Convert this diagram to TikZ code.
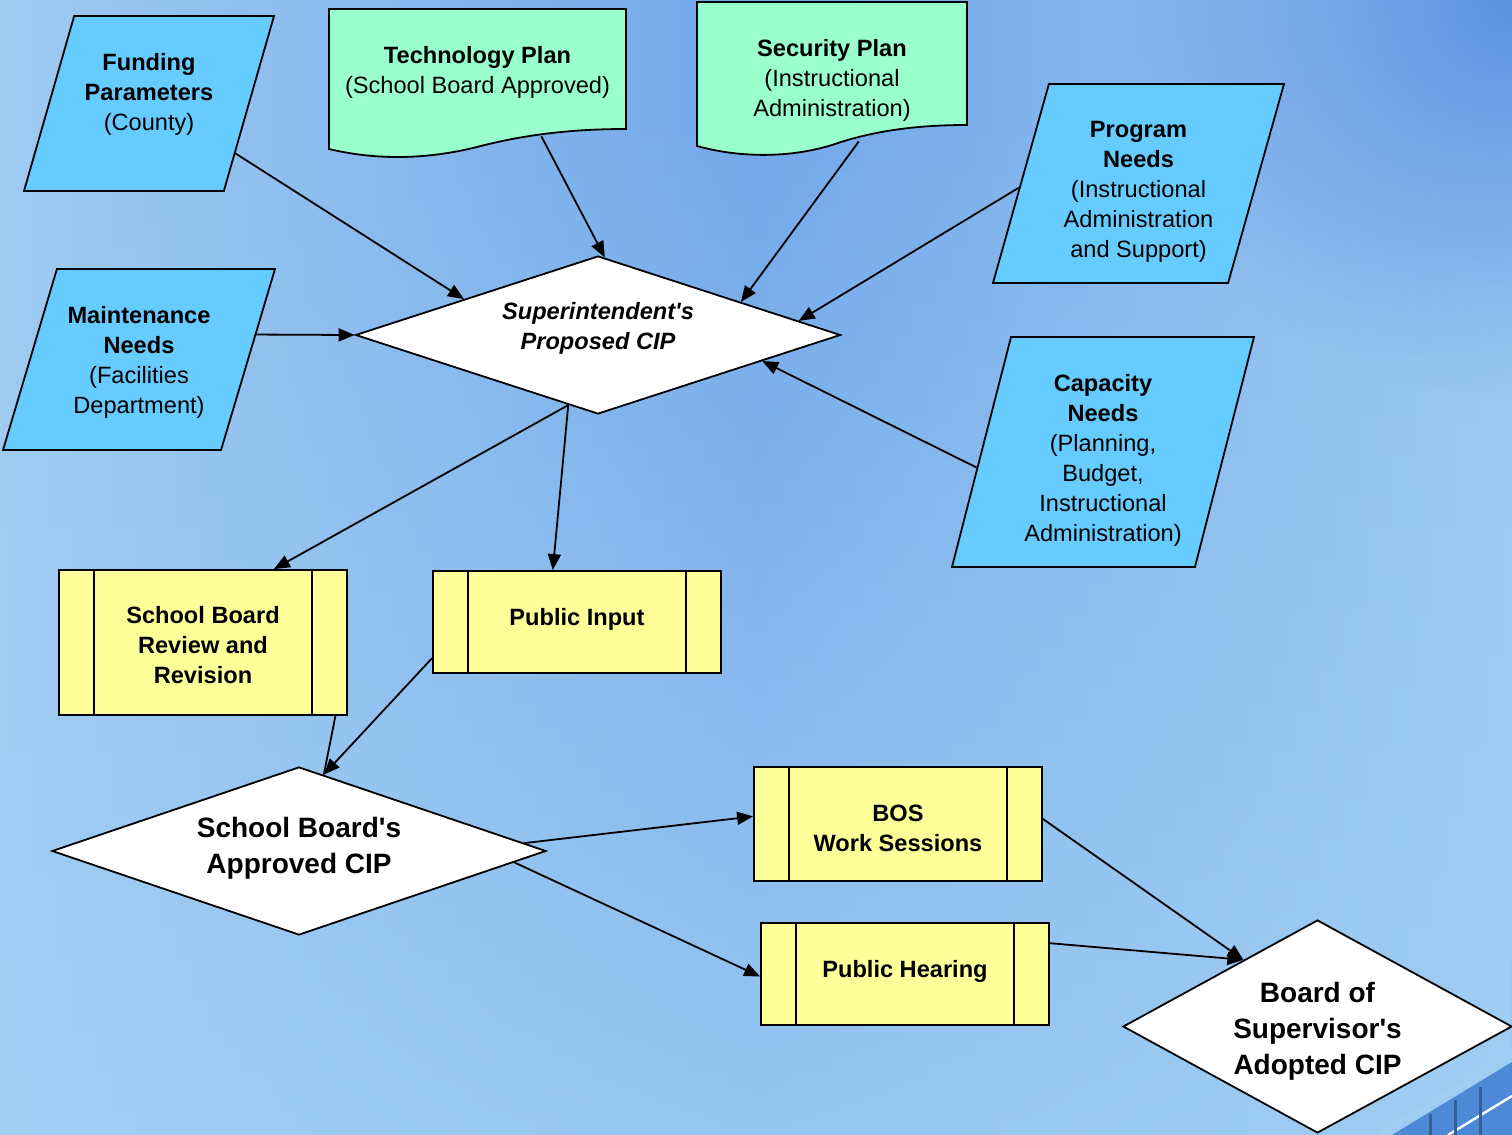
\documentclass[tikz,border=0pt]{standalone}
\usepackage{fontspec}
\setmainfont{Liberation Sans}[Ligatures=TeXOff]
\usetikzlibrary{shapes,arrows.meta,fadings}

\definecolor{skyleft}{HTML}{9FCBF1}
\definecolor{skymid}{HTML}{72A7EA}
\definecolor{skyright}{HTML}{9AC8F1}
\definecolor{skylow}{HTML}{A0CEF3}
\definecolor{skydeep}{HTML}{5C93E2}
\definecolor{stripe}{HTML}{4E89D8}
\definecolor{datablue}{HTML}{66CCFF}
\definecolor{docgreen}{HTML}{99FFCC}
\definecolor{procyellow}{HTML}{FFFF99}

\tikzfading[name=cornerfade,inner color=transparent!0,outer color=transparent!100]

\begin{document}
\begin{tikzpicture}[x=0.5pt,y=-0.5pt,
    every node/.style={align=center,font=\fontsize{11.8}{15}\selectfont},
    data/.style={trapezium,trapezium left angle=74,trapezium right angle=106,
      trapezium stretches body=true,draw,fill=datablue,line width=0.9pt,inner sep=0pt},
    docbox/.style={rectangle,inner sep=0pt},
    docfill/.style={draw,fill=docgreen,line width=0.9pt},
    process/.style={rectangle,draw,fill=procyellow,line width=0.9pt,inner sep=0pt,
      minimum width=144pt,font=\fontsize{11.8}{15}\selectfont\bfseries,
      path picture={\draw[line width=0.9pt]
        ([xshift=17.5pt]path picture bounding box.north west) -- ([xshift=17.5pt]path picture bounding box.south west)
        ([xshift=-17.5pt]path picture bounding box.north east) -- ([xshift=-17.5pt]path picture bounding box.south east);}},
    decision/.style={diamond,draw,fill=white,line width=0.9pt,inner sep=0pt},
    bigtext/.style={font=\fontsize{14}{18}\selectfont\bfseries},
    flow/.style={line width=0.9pt,-{Triangle[length=8pt,width=6.5pt]}}]

    \useasboundingbox (0,0) rectangle (1512,1135);
    \clip (0,0) rectangle (1512,1135);

    \shade[left color=skyleft,right color=skyright,middle color=skymid] (0,0) rectangle (1512,1135);
    \fill[skylow,path fading=north,fill opacity=0.8] (0,100) rectangle (1512,1135);
    \fill[skydeep,path fading=cornerfade,fit fading=true] (1112,-400) rectangle (1912,400);
    \fill[stripe] (1392,1135) -- (1512,1062) -- (1512,1135) -- cycle;
    \draw[skylow,line width=3pt] (1380,1135) -- (1512,1055);
    \draw[white,line width=1.2pt] (1448,1135) -- (1512,1096);
    \foreach \sx in {1430,1455,1480}
      \draw[stripe!70!black,line width=1.5pt] (\sx,1135) -- (\sx,{1135-(\sx-1392)*0.55});

    \draw[docfill] (329,9) -- (626,9) -- (626,129) .. controls (580,129) and (530,133) .. (477,147)
      .. controls (425,160) and (375,160) .. (329,149) -- cycle;
    \draw[docfill] (697,2) -- (967,2) -- (967,125) .. controls (920,125) and (875,130) .. (832,145)
      .. controls (790,158) and (740,158) .. (697,146) -- cycle;

    \node[docbox,minimum width=148.5pt,text height=42pt,text depth=21.5pt] (tech) at (477.5,72.5)
      {\textbf{Technology Plan}\\(School Board Approved)};
    \node[docbox,minimum width=135pt,text height=57pt,text depth=12.5pt] (sec) at (832,71.5)
      {\textbf{Security Plan}\\(Instructional\\Administration)};

    \node[data,minimum width=125pt,text height=57pt,text depth=30.5pt] (fund) at (149,103.5)
      {\textbf{Funding}\\\textbf{Parameters}\\(County)};
    \node[data,minimum width=136pt,text height=72pt,text depth=18.5pt,trapezium left angle=73.4,
      trapezium right angle=106.6] (maint) at (139,359.5)
      {\textbf{Maintenance}\\\textbf{Needs}\\(Facilities\\Department)};
    \node[data,minimum width=145.5pt,text height=86.5pt,text depth=13pt,trapezium left angle=74.3,
      trapezium right angle=105.7] (prog) at (1138.5,183.5)
      {\textbf{Program}\\\textbf{Needs}\\(Instructional\\Administration\\and Support)};
    \node[data,minimum width=151pt,text height=102pt,text depth=13pt,trapezium left angle=75.6,
      trapezium right angle=104.4] (cap) at (1103,452)
      {\textbf{Capacity}\\\textbf{Needs}\\(Planning,\\Budget,\\Instructional\\Administration)};

    \node[decision,shape aspect=3.07,minimum width=242.5pt,minimum height=79pt,
      text height=24pt,text depth=9.5pt] (sup) at (598,335)
      {\bfseries\itshape Superintendent's\\\bfseries\itshape Proposed CIP};

    \node[process,text height=56.5pt,text depth=16pt] (review) at (203,642.5) {School Board\\Review and\\Revision};
    \node[process,text height=27pt,text depth=24pt] (pubin) at (577,622) {Public Input};
    \node[process,text height=42pt,text depth=15pt] (bos) at (898,824) {BOS\\Work Sessions};
    \node[process,text height=27pt,text depth=24pt] (hear) at (905,974) {Public Hearing};

    \node[decision,bigtext,shape aspect=2.94,minimum width=247pt,minimum height=84pt,
      text height=28.5pt,text depth=6.5pt] (appr) at (299,851)
      {School Board's\\Approved CIP};
    \node[decision,bigtext,shape aspect=1.83,minimum width=194.5pt,minimum height=106.5pt,
      text height=50.5pt,text depth=3pt] (board) at (1317.5,1026.5)
      {Board of\\Supervisor's\\Adopted CIP};

    \draw[flow] (fund.-30) -- (sup.165);
    \draw[flow] (tech.-45) -- (sup.85.5);
    \draw[flow] (sec.-69.5) -- (sup.13);
    \draw[flow] (prog.182) -- (sup.4);
    \draw[flow] (cap.187) -- (sup.-9);
    \draw[flow] (maint.12.5) -- (sup.west);
    \draw[flow] (sup.-113) -- (review.46);
    \draw[flow] (sup.-113) -- (pubin.115);
    \draw[line width=0.9pt] (review.-29.5) -- (appr.72);
    \draw[flow] (pubin.194.4) -- (appr.72);
    \draw[flow] (appr.2.6) -- (bos.177);
    \draw[flow] (appr.-3.5) -- (hear.181);
    \draw[flow] (bos.2) -- (board.138);
    \draw[flow] (hear.12.9) -- (board.138);
\end{tikzpicture}
\end{document}
